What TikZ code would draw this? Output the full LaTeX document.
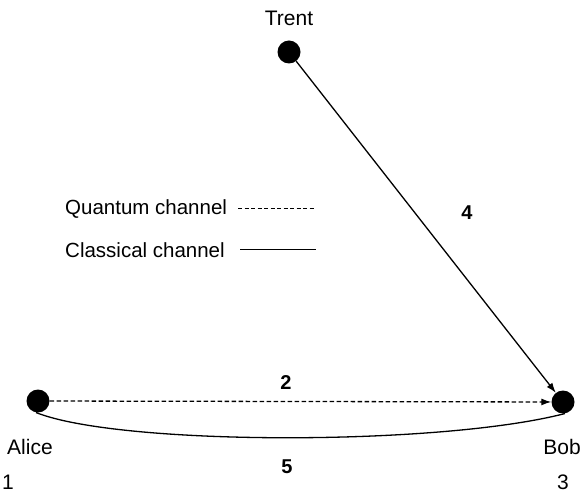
\documentclass[tikz,border=0pt]{standalone}
\usepackage{fontspec}
\setmainfont{Liberation Sans}
\usetikzlibrary{arrows.meta}
\begin{document}
\begin{tikzpicture}[x=1pt,y=-1pt,
  party/.style={circle,fill=black,inner sep=0pt,minimum size=23pt},
  lbl/.style={font=\fontsize{21}{24}\selectfont,inner sep=0pt},
  num/.style={font=\fontsize{20}{24}\selectfont\bfseries,inner sep=0pt},
  leg/.style={font=\fontsize{20.5}{24}\selectfont,inner sep=0pt,anchor=west},
  arr/.style={-{Latex[length=10pt,width=7pt]},line width=1.3pt}]
\useasboundingbox (0,0) rectangle (586,494);
\node[party] (T) at (289,52) {};
\node[party] (A) at (38,401) {};
\node[party] (B) at (563,402) {};
\node[lbl] (tT) at (289,18) {Trent};
\node[lbl] (tA) at (30,447) {Alice};
\node[lbl] (tB) at (562,447) {Bob};
\node[lbl] (n1) at (8,482) {1};
\node[lbl] (n3) at (563,482) {3};
\node[num] (n2) at (286,383) {2};
\node[num] (n4) at (467,213) {4};
\node[num] (n5) at (287,467) {5};
\draw[arr,dash pattern=on 4.5pt off 2.5pt] (A) -- (B);
\draw[arr] (T) -- (B);
\draw[line width=1.3pt] (A.-100) .. controls (120,446) and (440,446) .. (B.-80);
\node[leg] (q) at (65,209) {Quantum channel};
\node[leg] (c) at (65,250) {Classical channel};
\coordinate (q1) at (238,209);
\coordinate (q2) at (314,209);
\coordinate (c1) at (240,250);
\coordinate (c2) at (316,250);
\draw[line width=1pt,dash pattern=on 4pt off 2.5pt] (q1) -- (q2);
\draw[line width=1pt] (c1) -- (c2);
\end{tikzpicture}
\end{document}
